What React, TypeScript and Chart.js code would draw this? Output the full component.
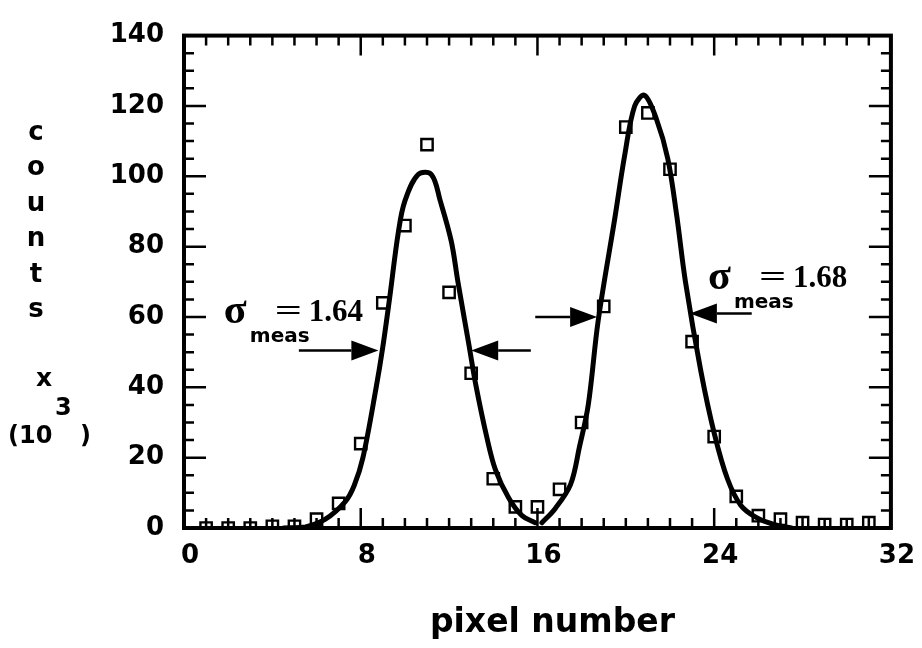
import React, { useEffect, useRef } from 'react';
import { Chart, registerables } from 'chart.js';

Chart.register(...registerables);

// ---- data ----
const pixelNumbers = [1, 2, 3, 4, 5, 6, 7, 8, 9, 10, 11, 12, 13, 14, 15, 16, 17, 18, 19, 20, 21, 22, 23, 24, 25, 26, 27, 28, 29, 30, 31];
const measuredCounts = [0, 0, 0, 0.5, 0.5, 2.5, 7, 24, 64, 86, 109, 67, 44, 14, 6, 6, 11, 30, 63, 114, 118, 102, 53, 26, 9, 3.5, 2.5, 1.5, 1, 1, 1.5];

const leftFitX = [4.5, 5.5, 6.4, 7.3, 7.7, 8.1, 8.7, 9.0, 9.3, 9.7, 10.0, 10.6, 11.2, 11.6, 12.1, 12.4, 12.9, 13.2, 13.7, 14.1, 14.7, 15.3, 15.9];
const leftFitY = [0, 0.3, 2.5, 7.5, 12, 20, 40, 51.5, 65, 84, 93, 100.5, 100.5, 93, 81.5, 70, 52, 41, 26, 16.5, 8.5, 3.5, 1.5];

const rightFitX = [16.2, 16.8, 17.5, 17.9, 18.3, 18.75, 19.5, 19.95, 20.4, 20.85, 21.4, 21.9, 22.3, 22.7, 23.4, 24.0, 24.6, 25.2, 25.9, 26.7, 27.5];
const rightFitY = [1.5, 5.5, 12.4, 23, 35, 59, 88, 106, 120, 123, 116, 105, 89, 70, 44.5, 27, 14, 6.5, 3, 1, 0];

const arrowFromX = [5.2, 15.7, 15.9, 25.7];
const arrowToX = [8.8, 13.0, 18.7, 22.9];
const arrowY = [50.5, 50.5, 60, 61];

const sigmaValues = ['1.64', '1.68'];
const sigmaAnchorX = [1.85, 23.76];
const sigmaAnchorY = [58.3, 68];

const xTickValues = [0, 8, 16, 24, 32];
const yTickValues = [0, 20, 40, 60, 80, 100, 120, 140];
const X_MIN = 0, X_MAX = 32, X_MINOR = 1, X_MAJOR = 8;
const Y_MIN = 0, Y_MAX = 140, Y_MINOR = 5, Y_MAJOR = 20;

const X_TITLE = 'pixel number';
const SANS = '"DejaVu Sans", "Liberation Sans", Arial, sans-serif';
const SERIF = '"Liberation Serif", "Times New Roman", serif';

const yTitleLetters = ['c', 'o', 'u', 'n', 't', 's'];

const zip = (xs: number[], ys: number[]) => xs.map((x, i) => ({ x, y: ys[i] }));

const decorPlugin = {
  id: 'decor',
  afterDraw(chart: any) {
    const { ctx, chartArea: a, scales } = chart;
    const xs = scales.x;
    const ys = scales.y;
    ctx.save();
    ctx.strokeStyle = '#000';
    ctx.fillStyle = '#000';
    ctx.lineCap = 'butt';

    // inward ticks on all four sides
    ctx.lineWidth = 2.5;
    ctx.beginPath();
    for (let v = X_MIN; v <= X_MAX; v += X_MINOR) {
      const px = xs.getPixelForValue(v);
      const len = v % X_MAJOR === 0 ? 20 : 10;
      ctx.moveTo(px, a.bottom);
      ctx.lineTo(px, a.bottom - len);
      ctx.moveTo(px, a.top);
      ctx.lineTo(px, a.top + len);
    }
    for (let v = Y_MIN; v <= Y_MAX; v += Y_MINOR) {
      const py = ys.getPixelForValue(v);
      const len = v % Y_MAJOR === 0 ? 22 : 10;
      ctx.moveTo(a.left, py);
      ctx.lineTo(a.left + len, py);
      ctx.moveTo(a.right, py);
      ctx.lineTo(a.right - len, py);
    }
    ctx.stroke();

    // frame
    ctx.lineWidth = 4;
    ctx.strokeRect(a.left, a.top, a.right - a.left, a.bottom - a.top);

    // arrows
    for (let i = 0; i < arrowFromX.length; i++) {
      const x0 = xs.getPixelForValue(arrowFromX[i]);
      const x1 = xs.getPixelForValue(arrowToX[i]);
      const py = ys.getPixelForValue(arrowY[i]);
      const dir = x1 > x0 ? 1 : -1;
      const headLen = 27;
      const headHalf = 10;
      ctx.lineWidth = 2.5;
      ctx.beginPath();
      ctx.moveTo(x0, py);
      ctx.lineTo(x1 - dir * headLen, py);
      ctx.stroke();
      ctx.beginPath();
      ctx.moveTo(x1, py);
      ctx.lineTo(x1 - dir * headLen, py - headHalf);
      ctx.lineTo(x1 - dir * headLen, py + headHalf);
      ctx.closePath();
      ctx.fill();
    }

    // sigma labels
    ctx.textAlign = 'left';
    ctx.textBaseline = 'alphabetic';
    for (let i = 0; i < sigmaValues.length; i++) {
      const px = xs.getPixelForValue(sigmaAnchorX[i]);
      const py = ys.getPixelForValue(sigmaAnchorY[i]);
      ctx.font = `bold 42px ${SERIF}`;
      ctx.fillText('σ', px - 1, py);
      ctx.font = `bold 20px ${SANS}`;
      ctx.fillText('meas', px + 25, py + 19);
      ctx.save();
      ctx.translate(px + 50, py - 3);
      ctx.scale(1.6, 1);
      ctx.font = `bold 30px ${SERIF}`;
      ctx.fillText('=', 0, 0);
      ctx.restore();
      ctx.font = `bold 31px ${SERIF}`;
      ctx.fillText(sigmaValues[i], px + 84, py - 2);
    }

    // x-axis title
    ctx.textAlign = 'center';
    ctx.font = `bold 33px ${SANS}`;
    ctx.fillText(X_TITLE, (a.left + a.right) / 2 + 15, 632);

    // stacked y-axis title
    ctx.font = `bold 26px ${SANS}`;
    yTitleLetters.forEach((ch, i) => {
      ctx.fillText(ch, 36, 140 + i * 35.4);
    });
    ctx.font = `bold 25px ${SANS}`;
    ctx.fillText('x', 44, 386);
    ctx.textAlign = 'left';
    ctx.font = `bold 24px ${SANS}`;
    ctx.fillText('(10', 8, 443);
    ctx.fillText('3', 55, 415);
    ctx.fillText(')', 80, 443);

    ctx.restore();
  },
};

export default function App() {
  const ref = useRef<HTMLCanvasElement | null>(null);
  useEffect(() => {
    if (!ref.current) return;
    const chart = new Chart(ref.current, {
      type: 'scatter',
      data: {
        datasets: [
          {
            type: 'line',
            label: 'fit left',
            data: zip(leftFitX, leftFitY),
            borderColor: '#000',
            borderWidth: 5,
            pointRadius: 0,
            fill: false,
            tension: 0.35,
            borderCapStyle: 'round',
            borderJoinStyle: 'round',
          },
          {
            type: 'line',
            label: 'fit right',
            data: zip(rightFitX, rightFitY),
            borderColor: '#000',
            borderWidth: 5,
            pointRadius: 0,
            fill: false,
            tension: 0.35,
            borderCapStyle: 'round',
            borderJoinStyle: 'round',
          },
          {
            type: 'scatter',
            label: 'measured',
            data: zip(pixelNumbers, measuredCounts),
            pointStyle: 'rect',
            pointRadius: 8,
            borderWidth: 2.4,
            borderColor: '#000',
            backgroundColor: 'rgba(255,255,255,0)',
          },
        ] as any,
      },
      options: {
        animation: false,
        responsive: false,
        maintainAspectRatio: false,
        layout: { padding: { top: 22, right: 27, left: 0, bottom: 0 } },
        plugins: {
          legend: { display: false },
          tooltip: { enabled: false },
        },
        scales: {
          x: {
            type: 'linear',
            min: X_MIN,
            max: X_MAX,
            afterFit: (s: any) => { s.height = 120; },
            afterBuildTicks: (s: any) => { s.ticks = xTickValues.map((v) => ({ value: v })); },
            grid: { display: false, drawTicks: false },
            border: { display: false },
            ticks: {
              color: '#000',
              padding: 13,
              labelOffset: 6,
              font: { family: SANS, size: 26, weight: 'bold' },
              maxRotation: 0,
            },
            title: { display: false },
          },
          y: {
            type: 'linear',
            min: Y_MIN,
            max: Y_MAX,
            afterFit: (s: any) => { s.width = 184; },
            afterBuildTicks: (s: any) => { s.ticks = yTickValues.map((v) => ({ value: v })); },
            grid: { display: false, drawTicks: false },
            border: { display: false },
            ticks: {
              color: '#000',
              padding: 20,
              font: { family: SANS, size: 26, weight: 'bold' },
            },
          },
        },
      } as any,
      plugins: [decorPlugin],
    });
    return () => chart.destroy();
  }, []);

  return (
    <div style={{ position: 'absolute', left: 0, top: 0, width: 922, height: 648, background: '#fff' }}>
      <canvas ref={ref} width={922} height={648} style={{ display: 'block' }} />
    </div>
  );
}
